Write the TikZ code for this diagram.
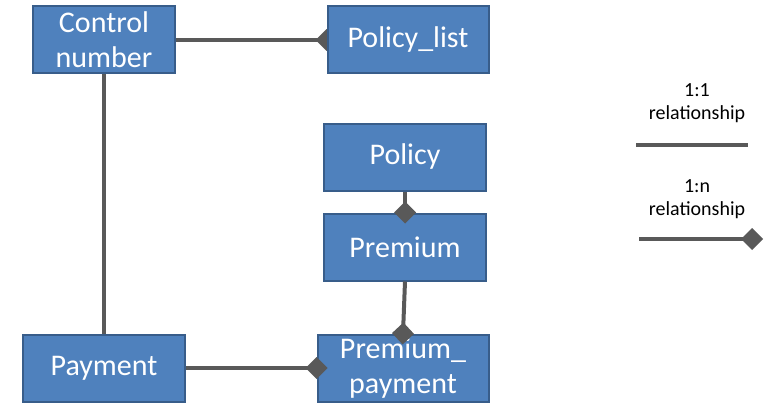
\documentclass[tikz,border=0pt]{standalone}
\usepackage{fontspec}
\setmainfont{Carlito}
\definecolor{boxblue}{RGB}{79,129,189}
\definecolor{boxedge}{RGB}{56,93,138}
\definecolor{linkgray}{RGB}{89,89,89}
\usetikzlibrary{arrows.meta,backgrounds,calc}

\begin{document}
\begin{tikzpicture}[x=1pt,y=-1pt,
    entity/.style={rectangle, draw=boxedge, fill=boxblue, line width=2pt,
      text=white, font=\fontsize{30}{35}\selectfont, align=center,
      inner sep=0pt, minimum height=67pt},
    onetoone/.style={draw=linkgray, line width=4pt},
    onetomany/.style={onetoone, -{Diamond[length=22pt,width=22pt]}, shorten >=-11pt},
    legendtext/.style={font=\fontsize{20}{23}\selectfont, align=center}]
  \useasboundingbox (0,0) rectangle (769,404);

  \node [entity, minimum width=142pt] (control) at (104,40) {Control\\number};
  \node [entity, minimum width=161pt] (policylist) at (408,40) {Policy\_list};
  \node [entity, minimum width=162pt] (policy) at (405,157) {Policy};
  \node [entity, minimum width=162pt] (premium) at (405,247) {Premium};
  \node [entity, minimum width=171pt] (prempay) at (403,368) {Premium\_\\payment};
  \node [entity, minimum width=162pt] (payment) at (104,368) {Payment};

  % links behind the boxes:
  \begin{scope}[on background layer]
    \draw [onetomany] (control) -- (policylist.west);
    \draw [onetoone] (control) -- (payment);
  \end{scope}

  % links on top:
  \draw [onetomany] (policy) -- (premium.north);
  \draw [onetomany] (premium.south) -- (prempay.north);
  \draw [onetomany] (payment) -- (prempay.west);

  % legend:
  \node [legendtext] (legone) at (697,103) {1:1\\relationship};
  \coordinate (oneA) at (636,145);
  \coordinate (oneB) at (748,145);
  \draw [onetoone] (oneA) -- (oneB);
  \node [legendtext] (legmany) at (697,199) {1:n\\relationship};
  \coordinate (manyA) at (639,239);
  \coordinate (manyB) at (752,239);
  \draw [onetomany] (manyA) -- (manyB);
\end{tikzpicture}
\end{document}
